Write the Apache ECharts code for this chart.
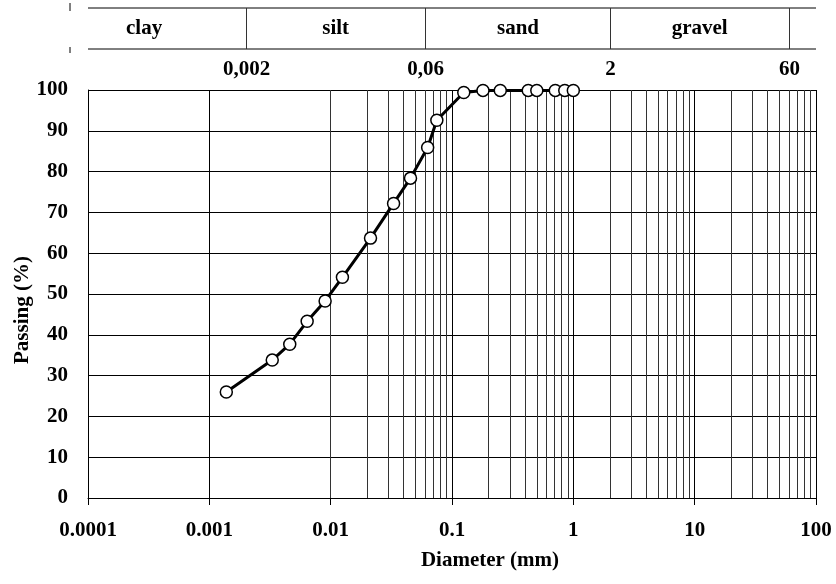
<!DOCTYPE html>
<html>
<head>
<meta charset="utf-8">
<script src="https://cdn.jsdelivr.net/npm/echarts@6/dist/echarts.min.js"></script>
<style>html,body{margin:0;padding:0;background:#fff}#c{width:836px;height:584px}</style>
</head>
<body>
<div id="c"></div>
<script>
// ---- data ----
var diameter = [0.00138, 0.0033, 0.0046, 0.0064, 0.009, 0.0125, 0.0213, 0.033, 0.0455, 0.063, 0.075, 0.125, 0.18, 0.25, 0.425, 0.5, 0.71, 0.85, 1.0];
var passing  = [26.0, 33.8, 37.7, 43.3, 48.3, 54.1, 63.7, 72.2, 78.4, 85.9, 92.6, 99.4, 99.9, 99.9, 99.9, 99.9, 99.9, 99.9, 99.9];
var xTickValues = [0.0001, 0.001, 0.01, 0.1, 1, 10, 100];
var bandBoundaries = [0.002, 0.06, 2, 60];
var boundaryLabels = ['0,002', '0,06', '2', '60'];
var bandNames = ['clay', 'silt', 'sand', 'gravel'];
var bandCenters = [0.00029, 0.011, 0.35, 11];
var xTitle = 'Diameter (mm)';
var yTitle = 'Passing (%)';

var FONT = 'Liberation Serif';
var FS = 21;
var minorGrid = [];
for (var e = -4; e < 2; e++) {
  for (var m = 2; m <= 9; m++) minorGrid.push(+(m * Math.pow(10, e)).toPrecision(3));
}

var chart = echarts.init(document.getElementById('c'), null, {renderer: 'canvas'});
var option = {
  animation: false,
  backgroundColor: '#fff',
  grid: {left: 88, right: 20, top: 90, bottom: 86, containLabel: false, outerBoundsMode: 'none'},
  xAxis: {
    type: 'log', logBase: 10, min: 0.0001, max: 100,
    axisLine: {show: true, lineStyle: {color: '#000', width: 1}},
    axisTick: {show: true, length: 7, lineStyle: {color: '#000'}},
    axisLabel: {fontFamily: FONT, fontWeight: 'bold', fontSize: FS, color: '#000', margin: 22,
      formatter: function (v) {
        for (var i = 0; i < xTickValues.length; i++) {
          if (Math.abs(Math.log10(v) - Math.log10(xTickValues[i])) < 1e-6) return String(xTickValues[i]);
        }
        return '';
      }},
    splitLine: {show: true, lineStyle: {color: '#000', width: 1}},
    minorTick: {show: false}, minorSplitLine: {show: false}
  },
  yAxis: {
    type: 'value', min: 0, max: 100, interval: 10,
    axisLine: {show: true, lineStyle: {color: '#000', width: 1}},
    axisTick: {show: false},
    axisLabel: {fontFamily: FONT, fontWeight: 'bold', fontSize: FS, color: '#000', margin: 20},
    splitLine: {show: true, lineStyle: {color: '#000', width: 1}}
  },
  series: [
    {
      type: 'line', data: [], silent: true,
      markLine: {
        silent: true, symbol: 'none', animation: false,
        label: {show: false},
        lineStyle: {color: '#333', width: 1, type: 'solid'},
        data: minorGrid.map(function (v) { return {xAxis: v}; })
      }
    },
    {
      type: 'line',
      data: diameter.map(function (d, i) { return [d, passing[i]]; }),
      symbol: 'circle', symbolSize: 12,
      lineStyle: {color: '#000', width: 3},
      itemStyle: {color: '#fff', borderColor: '#000', borderWidth: 1.5},
      z: 5
    }
  ]
};
chart.setOption(option);

// ---- top classification band and axis titles ----
function px(v) { return chart.convertToPixel({xAxisIndex: 0}, v); }
var left = px(0.0001), right = px(100);
var bandTop = 8, bandBottom = 49;
var g = [];
var font = 'bold ' + FS + 'px "' + FONT + '"';
g.push({type: 'line', shape: {x1: left, y1: bandTop, x2: right, y2: bandTop}, style: {stroke: '#000', lineWidth: 1}});
g.push({type: 'line', shape: {x1: left, y1: bandBottom, x2: right, y2: bandBottom}, style: {stroke: '#000', lineWidth: 1}});
g.push({type: 'line', shape: {x1: 70, y1: 3, x2: 70, y2: 11}, style: {stroke: '#000', lineWidth: 1}});
g.push({type: 'line', shape: {x1: 70, y1: 47, x2: 70, y2: 53}, style: {stroke: '#000', lineWidth: 1}});
bandBoundaries.forEach(function (b, i) {
  var x = Math.round(px(b)) + 0.5;
  g.push({type: 'line', shape: {x1: x, y1: bandTop, x2: x, y2: bandBottom}, style: {stroke: '#333', lineWidth: 1}});
  g.push({type: 'text', x: x, y: 70, style: {text: boundaryLabels[i], fill: '#000', font: font, textAlign: 'center', textVerticalAlign: 'middle'}});
});
bandNames.forEach(function (n, i) {
  g.push({type: 'text', x: px(bandCenters[i]), y: 29, style: {text: n, fill: '#000', font: font, textAlign: 'center', textVerticalAlign: 'middle'}});
});
g.push({type: 'text', x: 490, y: 561, style: {text: xTitle, fill: '#000', font: font, textAlign: 'center', textVerticalAlign: 'middle'}});
g.push({type: 'text', x: 23, y: 310, rotation: Math.PI / 2, style: {text: yTitle, fill: '#000', font: font, textAlign: 'center', textVerticalAlign: 'middle'}});
chart.setOption({graphic: g});
</script>
</body>
</html>
